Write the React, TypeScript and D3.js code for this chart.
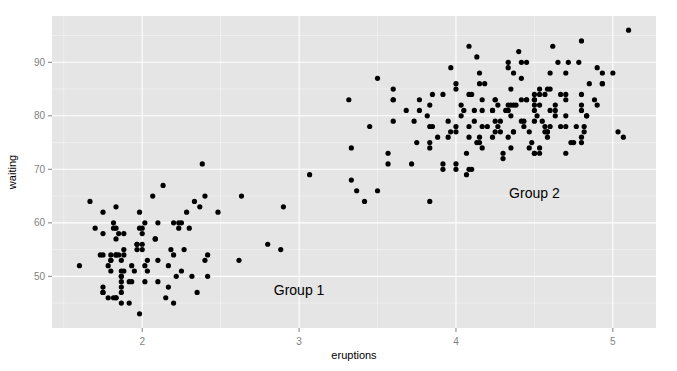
import React, { useEffect } from "react";
import * as d3 from "d3";

// Old Faithful eruptions (minutes) and waiting time (minutes)
const eruptions = [
  3.6, 1.8, 3.333, 2.283, 4.533, 2.883, 4.7, 3.6, 1.95, 4.35, 1.833, 3.917, 4.2, 1.75, 4.7, 2.167, 1.75, 4.8, 1.6, 4.25,
  1.8, 1.75, 3.45, 3.067, 4.533, 3.6, 1.967, 4.083, 3.85, 4.433, 4.3, 4.467, 3.367, 4.033, 3.833, 2.017, 1.867, 4.833, 1.833, 4.783,
  4.35, 1.883, 4.567, 1.75, 4.533, 3.317, 3.833, 2.1, 4.633, 2.0, 4.8, 4.716, 1.833, 4.833, 1.733, 4.883, 3.717, 1.667, 4.567, 4.317,
  2.233, 4.5, 1.75, 4.8, 1.817, 4.4, 4.167, 4.7, 2.067, 4.7, 4.033, 1.967, 4.5, 4.0, 1.983, 5.067, 2.017, 4.567, 3.883, 3.6,
  4.133, 4.333, 4.1, 2.633, 4.067, 4.933, 3.95, 4.517, 2.167, 4.0, 2.2, 4.333, 1.867, 4.817, 1.833, 4.3, 4.667, 3.75, 1.867, 4.9,
  2.483, 4.367, 2.1, 4.5, 4.05, 1.867, 4.7, 1.783, 4.85, 3.683, 4.733, 2.3, 4.9, 4.417, 1.7, 4.633, 2.317, 4.6, 1.817, 4.417,
  2.617, 4.067, 4.25, 1.967, 4.6, 3.767, 1.917, 4.5, 2.267, 4.65, 1.867, 4.167, 2.8, 4.333, 1.833, 4.383, 1.883, 4.933, 2.033, 3.733,
  4.233, 2.233, 4.533, 4.817, 4.333, 1.983, 4.633, 2.017, 5.1, 1.8, 5.033, 4.0, 2.4, 4.6, 3.567, 4.0, 4.5, 4.083, 1.8, 3.967,
  2.2, 4.15, 2.0, 3.833, 3.5, 4.583, 2.367, 5.0, 1.933, 4.617, 1.917, 2.083, 4.583, 3.333, 4.167, 4.333, 4.5, 2.417, 4.0, 4.167,
  1.883, 4.583, 4.25, 3.767, 2.033, 4.433, 4.083, 1.833, 4.417, 2.183, 4.8, 1.833, 4.8, 4.1, 3.966, 4.233, 3.5, 4.366, 2.25, 4.667,
  2.1, 4.35, 4.133, 1.867, 4.6, 1.783, 4.367, 3.85, 1.933, 4.5, 2.383, 4.7, 1.867, 3.833, 3.417, 4.233, 2.4, 4.8, 2.0, 4.15,
  1.867, 4.267, 1.75, 4.483, 4.0, 4.117, 4.083, 4.267, 3.917, 4.55, 4.083, 2.417, 4.183, 2.217, 4.45, 1.883, 1.85, 4.283, 3.95, 2.333,
  4.15, 2.35, 4.933, 2.9, 4.583, 3.833, 2.083, 4.367, 2.133, 4.35, 2.2, 4.45, 3.567, 4.5, 4.15, 3.817, 3.917, 4.45, 2.0, 4.283,
  4.767, 4.533, 1.85, 4.25, 1.983, 2.25, 4.75, 4.117, 2.15, 4.417, 1.817, 4.467,
];
const waiting = [
  79, 54, 74, 62, 85, 55, 88, 85, 51, 85, 54, 84, 78, 47, 83, 52, 62, 84, 52, 79,
  51, 47, 78, 69, 74, 83, 55, 76, 78, 79, 73, 77, 66, 80, 74, 52, 48, 80, 59, 90,
  80, 58, 84, 58, 73, 83, 64, 53, 82, 59, 75, 90, 54, 80, 54, 83, 71, 64, 77, 81,
  59, 84, 48, 82, 60, 92, 78, 78, 65, 73, 82, 56, 79, 71, 62, 76, 60, 78, 76, 83,
  75, 82, 70, 65, 73, 88, 76, 80, 48, 86, 60, 90, 50, 78, 63, 72, 84, 75, 51, 82,
  62, 88, 49, 83, 81, 47, 84, 52, 86, 81, 75, 59, 89, 79, 59, 81, 50, 85, 59, 87,
  53, 69, 77, 56, 88, 81, 45, 82, 55, 90, 45, 83, 56, 89, 46, 82, 51, 86, 53, 79,
  81, 60, 82, 77, 76, 59, 80, 49, 96, 53, 77, 77, 65, 81, 71, 70, 81, 93, 53, 89,
  45, 86, 58, 78, 66, 76, 63, 88, 52, 93, 49, 57, 77, 68, 81, 81, 73, 50, 85, 74,
  55, 77, 83, 83, 51, 78, 84, 46, 83, 55, 81, 57, 76, 84, 77, 81, 87, 77, 51, 78,
  60, 82, 91, 53, 78, 46, 77, 84, 49, 83, 71, 80, 49, 75, 64, 76, 53, 94, 55, 76,
  50, 82, 54, 75, 78, 79, 78, 78, 70, 79, 70, 54, 86, 50, 90, 54, 54, 77, 79, 64,
  75, 47, 86, 63, 85, 82, 57, 82, 67, 74, 54, 83, 73, 73, 88, 80, 71, 83, 56, 79,
  78, 84, 58, 83, 43, 60, 75, 81, 46, 90, 46, 74,
];

const xTicks = [2, 3, 4, 5];
const xMinor = [1.5, 2.5, 3.5, 4.5];
const yTicks = [50, 60, 70, 80, 90];
const yMinor = [45, 55, 65, 75, 85, 95];

const labelText = ["Group 1", "Group 2"];
const labelX = [3, 4.5];
const labelY = [47.5, 65.6];

const W = 677;
const H = 371;
const margin = { top: 16, right: 21, bottom: 43, left: 52 };

export default function App() {
  useEffect(() => {
    document.body.style.margin = "0";
  }, []);

  const xExt = d3.extent(eruptions) as [number, number];
  const yExt = d3.extent(waiting) as [number, number];
  const xPad = (xExt[1] - xExt[0]) * 0.05;
  const yPad = (yExt[1] - yExt[0]) * 0.05;

  const x = d3
    .scaleLinear()
    .domain([xExt[0] - xPad, xExt[1] + xPad])
    .range([margin.left, W - margin.right]);
  const y = d3
    .scaleLinear()
    .domain([yExt[0] - yPad, yExt[1] + yPad])
    .range([H - margin.bottom, margin.top]);

  const pw = W - margin.left - margin.right;
  const ph = H - margin.top - margin.bottom;
  const font = "'Liberation Sans', Arial, sans-serif";
  const tickCol = "#7F7F7F";

  return (
    <svg width={W} height={H} style={{ display: "block", background: "#fff" }}>
      <rect x={margin.left} y={margin.top} width={pw} height={ph} fill="#E5E5E5" />
      {/* minor grid */}
      {xMinor.map((d) => (
        <line key={"xm" + d} x1={x(d)} x2={x(d)} y1={margin.top} y2={margin.top + ph} stroke="#F2F2F2" strokeWidth={0.7} />
      ))}
      {yMinor.map((d) => (
        <line key={"ym" + d} x1={margin.left} x2={margin.left + pw} y1={y(d)} y2={y(d)} stroke="#F2F2F2" strokeWidth={0.7} />
      ))}
      {/* major grid */}
      {xTicks.map((d) => (
        <line key={"xg" + d} x1={x(d)} x2={x(d)} y1={margin.top} y2={margin.top + ph} stroke="#fff" strokeWidth={1.1} />
      ))}
      {yTicks.map((d) => (
        <line key={"yg" + d} x1={margin.left} x2={margin.left + pw} y1={y(d)} y2={y(d)} stroke="#fff" strokeWidth={1.1} />
      ))}

      {/* points */}
      {eruptions.map((e, i) => (
        <circle key={i} cx={x(e)} cy={y(waiting[i])} r={2.6} fill="#000" />
      ))}

      {/* annotations */}
      {labelText.map((t, i) => (
        <text key={t} x={x(labelX[i])} y={y(labelY[i])} textAnchor="middle" dominantBaseline="central" fontFamily={font} fontSize={14} fill="#000">
          {t}
        </text>
      ))}

      {/* x axis */}
      {xTicks.map((d) => (
        <g key={"xt" + d}>
          <line x1={x(d)} x2={x(d)} y1={margin.top + ph} y2={margin.top + ph + 4} stroke={tickCol} />
          <text x={x(d)} y={margin.top + ph + 13} textAnchor="middle" dominantBaseline="central" fontFamily={font} fontSize={10} fill={tickCol}>
            {d}
          </text>
        </g>
      ))}
      {/* y axis */}
      {yTicks.map((d) => (
        <g key={"yt" + d}>
          <line x1={margin.left - 4} x2={margin.left} y1={y(d)} y2={y(d)} stroke={tickCol} />
          <text x={margin.left - 7} y={y(d)} textAnchor="end" dominantBaseline="central" fontFamily={font} fontSize={10} fill={tickCol}>
            {d}
          </text>
        </g>
      ))}

      <text x={margin.left + pw / 2} y={355} textAnchor="middle" dominantBaseline="central" fontFamily={font} fontSize={11} fill="#000">
        eruptions
      </text>
      <text
        transform={`translate(12, ${margin.top + ph / 2}) rotate(-90)`}
        textAnchor="middle"
        dominantBaseline="central"
        fontFamily={font}
        fontSize={11}
        fill="#000"
      >
        waiting
      </text>
    </svg>
  );
}
